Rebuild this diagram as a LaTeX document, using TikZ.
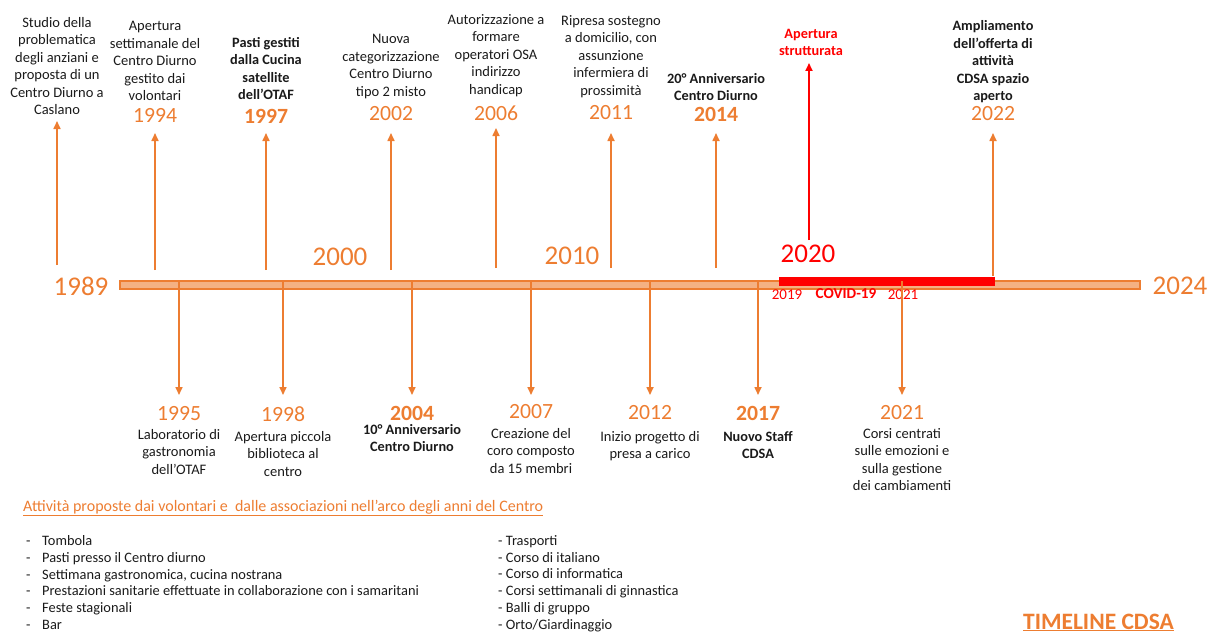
\documentclass[tikz,border=0pt]{standalone}
\usepackage{fontspec}
\setmainfont{Carlito}
\usetikzlibrary{arrows.meta}
\definecolor{cdsaorange}{HTML}{ED7D31}
\definecolor{barfill}{HTML}{F4B183}
\definecolor{covidred}{HTML}{FF0000}
\definecolor{ink}{HTML}{1A1A1A}

\tikzset{
  evtext/.style={align=center, inner sep=0pt, text=ink,
    font=\fontsize{14.5}{17.5}\selectfont},
  evbold/.style={align=center, inner sep=0pt, text=ink,
    font=\fontsize{14.3}{17.5}\selectfont\bfseries},
  yearlbl/.style={inner sep=0pt, text=cdsaorange, font=\fontsize{21.7}{24}\selectfont},
  yearbold/.style={inner sep=0pt, text=cdsaorange, font=\fontsize{21.7}{24}\selectfont\bfseries},
  decade/.style={inner sep=0pt, text=cdsaorange, font=\fontsize{27}{30}\selectfont},
  tick/.style={draw=cdsaorange, line width=1.6pt, -{Triangle[length=8pt,width=7pt]}},
  redtick/.style={draw=covidred, line width=1.8pt, -{Triangle[length=8pt,width=7pt]}},
  covidlbl/.style={inner sep=0pt, text=covidred, font=\fontsize{15}{17}\selectfont},
  listtext/.style={align=left, inner sep=0pt, text=ink, font=\fontsize{14.4}{16.9}\selectfont},
}

\begin{document}
\begin{tikzpicture}[x=1pt, y=-1pt]
\useasboundingbox (0,0) rectangle (1210,634);

% ---- main bar ----
\node[draw=cdsaorange, fill=barfill, line width=1.2pt, minimum width=1020pt,
      minimum height=8pt, inner sep=0pt] (bar) at (630,285) {};
\fill[covidred] (779,277) rectangle (995,286);
\coordinate (covidL) at (779,281);
\coordinate (covidR) at (995,281);

\node[decade] (d1989) at (81,286) {1989};
\node[decade] (d2024) at (1180,286) {2024};
\node[decade] (d2000) at (340,257) {2000};
\node[decade] (d2010) at (572,256) {2010};
\node[decade, text=covidred] (d2020) at (808,254) {2020};

\node[covidlbl] (c2019) at (787,295) {2019};
\node[covidlbl, font=\fontsize{15.2}{17}\selectfont\bfseries] (ccovid) at (846,294) {COVID-19};
\node[covidlbl] (c2021) at (903,295) {2021};

% ---- events above the bar ----
\node[evtext, anchor=south] (t1989) at (57,115)
  {Studio della\\problematica\\degli anziani e\\proposta di un\\Centro Diurno a\\Caslano};
\coordinate (u1989) at (57,265);
\coordinate (h1989) at (57,121);
\draw[tick] (u1989) -- (h1989);

\node[yearlbl] (y1994) at (155,115) {1994};
\node[evtext, anchor=south] (t1994) at (155,101)
  {Apertura\\settimanale del\\Centro Diurno\\gestito dai\\volontari};
\coordinate (u1994) at (155,270);
\coordinate (h1994) at (155,133);
\draw[tick] (u1994) -- (h1994);

\node[yearbold] (y1997) at (266,116) {1997};
\node[evbold, anchor=south] (t1997) at (266,100)
  {Pasti gestiti\\dalla Cucina\\satellite\\dell’OTAF};
\coordinate (u1997) at (266,270);
\coordinate (h1997) at (266,133);
\draw[tick] (u1997) -- (h1997);

\node[yearlbl] (y2002) at (391,114) {2002};
\node[evtext, anchor=south] (t2002) at (391,99)
  {Nuova\\categorizzazione\\Centro Diurno\\tipo 2 misto};
\coordinate (u2002) at (391,270);
\coordinate (h2002) at (391,133);
\draw[tick] (u2002) -- (h2002);

\node[yearlbl] (y2006) at (496,113) {2006};
\node[evtext, anchor=south] (t2006) at (496,97)
  {Autorizzazione a\\formare\\operatori OSA\\indirizzo\\handicap};
\coordinate (u2006) at (496,268);
\coordinate (h2006) at (496,128);
\draw[tick] (u2006) -- (h2006);

\node[yearlbl] (y2011) at (611,113) {2011};
\node[evtext, anchor=south] (t2011) at (611,98)
  {Ripresa sostegno\\a domicilio, con\\assunzione\\infermiera di\\prossimità};
\coordinate (u2011) at (611,268);
\coordinate (h2011) at (611,133);
\draw[tick] (u2011) -- (h2011);

\node[yearbold] (y2014) at (716,114) {2014};
\node[evbold, anchor=south] (t2014) at (716,101)
  {20° Anniversario\\Centro Diurno};
\coordinate (u2014) at (716,268);
\coordinate (h2014) at (716,133);
\draw[tick] (u2014) -- (h2014);

\node[evbold, text=covidred, anchor=south] (t2020) at (811,56)
  {Apertura\\strutturata};
\coordinate (u2020) at (809,240);
\coordinate (h2020) at (809,63);
\draw[redtick] (u2020) -- (h2020);

\node[yearlbl] (y2022) at (993,114) {2022};
\node[evbold, anchor=south] (t2022) at (993,103)
  {Ampliamento\\dell’offerta di\\attività\\CDSA spazio\\aperto};
\coordinate (u2022) at (993,276);
\coordinate (h2022) at (993,133);
\draw[tick] (u2022) -- (h2022);

% ---- events below the bar ----
\coordinate (u1995) at (179,281);
\coordinate (h1995) at (179,395);
\draw[tick] (u1995) -- (h1995);
\node[yearlbl] (y1995) at (179,414) {1995};
\node[evtext, anchor=north] (t1995) at (179,429)
  {Laboratorio di\\gastronomia\\dell’OTAF};

\coordinate (u1998) at (283,281);
\coordinate (h1998) at (283,395);
\draw[tick] (u1998) -- (h1998);
\node[yearlbl] (y1998) at (283,414) {1998};
\node[evtext, anchor=north] (t1998) at (283,431)
  {Apertura piccola\\biblioteca al\\centro};

\coordinate (u2004) at (412,281);
\coordinate (h2004) at (412,395);
\draw[tick] (u2004) -- (h2004);
\node[yearbold] (y2004) at (412,413) {2004};
\node[evbold, anchor=north] (t2004) at (412,424)
  {10° Anniversario\\Centro Diurno};

\coordinate (u2007) at (531,281);
\coordinate (h2007) at (531,395);
\draw[tick] (u2007) -- (h2007);
\node[yearlbl] (y2007) at (531,412) {2007};
\node[evtext, anchor=north] (t2007) at (531,428)
  {Creazione del\\coro composto\\da 15 membri};

\coordinate (u2012) at (650,281);
\coordinate (h2012) at (650,395);
\draw[tick] (u2012) -- (h2012);
\node[yearlbl] (y2012) at (650,413) {2012};
\node[evtext, anchor=north] (t2012) at (650,431)
  {Inizio progetto di\\presa a carico};

\coordinate (u2017) at (758,281);
\coordinate (h2017) at (758,395);
\draw[tick] (u2017) -- (h2017);
\node[yearbold] (y2017) at (758,413) {2017};
\node[evbold, anchor=north] (t2017) at (758,431)
  {Nuovo Staff\\CDSA};

\coordinate (u2021) at (902,281);
\coordinate (h2021) at (902,395);
\draw[tick] (u2021) -- (h2021);
\node[yearlbl] (y2021) at (902,413) {2021};
\node[evtext, anchor=north] (t2021) at (902,428)
  {Corsi centrati\\sulle emozioni e\\sulla gestione\\dei cambiamenti};

% ---- activities ----
\node[inner sep=0pt, anchor=base west, text=cdsaorange, font=\fontsize{16}{18}\selectfont]
  (acthead) at (23,511)
  {\underline{Attività proposte dai volontari e \ dalle associazioni nell’arco degli anni del Centro}};

\node[listtext, anchor=north west] (actleft) at (26,535)
  {\makebox[16pt][l]{-}Tombola\\
   \makebox[16pt][l]{-}Pasti presso il Centro diurno\\
   \makebox[16pt][l]{-}Settimana gastronomica, cucina nostrana\\
   \makebox[16pt][l]{-}Prestazioni sanitarie effettuate in collaborazione con i samaritani\\
   \makebox[16pt][l]{-}Feste stagionali\\
   \makebox[16pt][l]{-}Bar};

\node[listtext, anchor=north west] (actright) at (498,535)
  {- Trasporti\\
   - Corso di italiano\\
   - Corso di informatica\\
   - Corsi settimanali di ginnastica\\
   - Balli di gruppo\\
   - Orto/Giardinaggio};

\node[inner sep=0pt, anchor=base east, text=cdsaorange, font=\fontsize{23.5}{26}\selectfont\bfseries]
  (title) at (1174,629) {\underline{TIMELINE CDSA}};
\end{tikzpicture}
\end{document}
